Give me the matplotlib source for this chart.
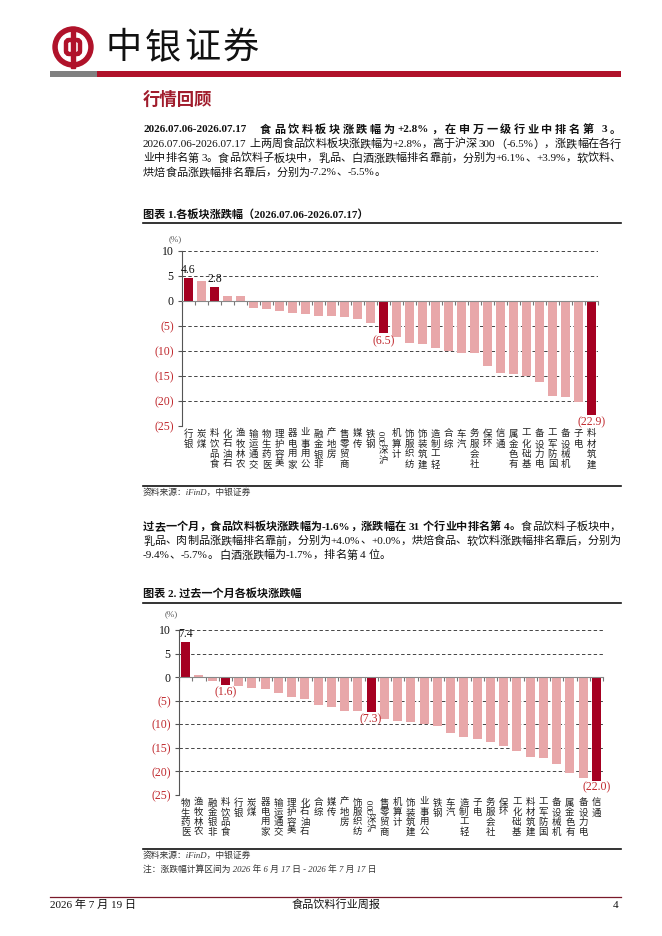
import re
import matplotlib
matplotlib.use('Agg')
import matplotlib.pyplot as plt
from matplotlib.patches import Circle, Rectangle, FancyBboxPatch
import numpy as np

W, H = 662, 936
SERIF_CN = ['Liberation Serif', 'Noto Sans CJK SC']
CN = ['Noto Sans CJK SC', 'DejaVu Sans']

BOC_RED = '#B0122A'
DARK = '#A50021'
PINK = '#E8A7A9'
NEG = '#C0282D'

# chart 1: 2026.07.06-2026.07.17
week_names = ['银行', '煤炭', '食品饮料', '石油石化', '农林牧渔', '交通运输', '医药生物', '美容护理',
              '家用电器', '公用事业', '非银金融', '房地产', '商贸零售', '传媒', '钢铁', '沪深300',
              '计算机', '纺织服饰', '建筑装饰', '轻工制造', '综合', '汽车', '社会服务', '环保',
              '通信', '有色金属', '基础化工', '电力设备', '国防军工', '机械设备', '电子', '建筑材料']
week_values = [4.6, 4.0, 2.8, 1.0, 1.0, -1.5, -1.7, -2.1, -2.5, -2.7, -3.1, -3.1, -3.3, -3.7, -4.5, -6.5,
               -7.2, -8.5, -8.7, -9.5, -10.0, -10.4, -10.4, -13.0, -14.5, -14.7, -15.0, -16.3, -19.0,
               -19.3, -20.3, -22.9]
week_marks = ['银行', '食品饮料', '沪深300', '建筑材料']

# chart 2: past month
month_names = ['医药生物', '农林牧渔', '非银金融', '食品饮料', '银行', '煤炭', '家用电器', '交通运输',
               '美容护理', '石油石化', '综合', '传媒', '房地产', '纺织服饰', '沪深300', '商贸零售',
               '计算机', '建筑装饰', '公用事业', '钢铁', '汽车', '轻工制造', '电子', '社会服务', '环保',
               '基础化工', '建筑材料', '国防军工', '机械设备', '有色金属', '电力设备', '通信']
month_values = [7.4, 0.5, -0.9, -1.6, -1.8, -2.3, -2.5, -3.4, -4.2, -4.7, -5.9, -6.4, -7.2, -7.2, -7.3,
                -8.9, -9.2, -9.6, -9.9, -10.4, -11.9, -12.7, -13.2, -13.8, -14.6, -15.7, -17.0, -17.2,
                -18.5, -20.3, -21.4, -22.0]
month_marks = ['医药生物', '食品饮料', '沪深300', '通信']

y_ticks = [10, 5, 0, -5, -10, -15, -20, -25]

para1 = [
    [('2026.07.06-2026.07.17  食品饮料板块涨跌幅为+2.8%，在申万一级行业中排名第 3。', 'bold')],
    [('2026.07.06-2026.07.17 上两周食品饮料板块涨跌幅为+2.8%，高于沪深 300（-6.5%），涨跌幅在各行', 'normal')],
    [('业中排名第 3。食品饮料子板块中，乳品、白酒涨跌幅排名靠前，分别为+6.1%、+3.9%，软饮料、', 'normal')],
    [('烘焙食品涨跌幅排名靠后，分别为-7.2%、-5.5%。', 'normal')],
]
para2 = [
    [('过去一个月，食品饮料板块涨跌幅为-1.6%，涨跌幅在 31 个行业中排名第 4。', 'bold'),
     ('食品饮料子板块中，', 'normal')],
    [('乳品、肉制品涨跌幅排名靠前，分别为+4.0%、+0.0%，烘焙食品、软饮料涨跌幅排名靠后，分别为', 'normal')],
    [('-9.4%、-5.7%。白酒涨跌幅为-1.7%，排名第 4 位。', 'normal')],
]

fig = plt.figure(figsize=(W / 100, H / 100), dpi=100)
page = fig.add_axes([0, 0, 1, 1])
page.set_xlim(0, W)
page.set_ylim(H, 0)
page.axis('off')
renderer = fig.canvas.get_renderer()


def put_line(segs, y, x0=143, x1=621, justify=True, size=8):
    items = []
    for text, weight in segs:
        for tok in re.findall(r'[\x21-\x7e]+| |[^\x00-\x7f]', text):
            if tok == ' ':
                items.append((None, 3.0))
                continue
            t = page.text(0, y, tok, fontsize=size, family=SERIF_CN, weight=weight,
                          va='center', ha='left', color='#111')
            items.append((t, t.get_window_extent(renderer).width))
    total = sum(w for _, w in items)
    gap = (x1 - x0 - total) / (len(items) - 1) if justify and len(items) > 1 else 0
    x = x0
    for t, w in items:
        if t is not None:
            t.set_x(x)
        x += w + gap


def vlabel(ax, i, name, size=6.8, step=7.0):
    off = 2.5
    for tok in re.findall(r'\d+|.', name)[::-1]:
        rot = 90 if tok.isdigit() else 0
        ax.annotate(tok, (i, 0), xycoords=('data', 'axes fraction'), xytext=(0, -off),
                    textcoords='offset points', ha='center', va='top', rotation=rot,
                    fontsize=size, family=SERIF_CN, color='#222')
        off += len(tok) * size * 0.5 + 1.5 if tok.isdigit() else step


def draw_chart(rect, names, values, marks, step):
    ax = fig.add_axes(rect)
    x = np.arange(len(names))
    colors = [DARK if n in marks else PINK for n in names]
    ax.bar(x, values, width=0.68, color=colors, zorder=3)
    ax.set_xlim(-0.5, len(names) - 0.5)
    ax.set_ylim(-25, 10)
    ax.set_yticks(y_ticks)
    ax.set_yticklabels([str(v) if v >= 0 else '(%d)' % -v for v in y_ticks],
                       family='Liberation Serif', fontsize=8.5)
    for lab, v in zip(ax.get_yticklabels(), y_ticks):
        lab.set_color(NEG if v < 0 else '#111')
    ax.grid(axis='y', linestyle=(0, (3.5, 2.5)), color='#444', linewidth=0.7)
    ax.set_axisbelow(True)
    ax.spines['top'].set_visible(False)
    ax.spines['right'].set_visible(False)
    ax.spines['bottom'].set_position(('data', 0))
    ax.spines['bottom'].set_color('#888')
    ax.spines['left'].set_color('#555')
    ax.spines['bottom'].set_zorder(4)
    ax.set_xticks(np.arange(-0.5, len(names), 1))
    ax.tick_params(axis='x', length=3, color='#777', labelbottom=False)
    ax.tick_params(axis='y', length=3, color='#555', pad=3)
    ax.patch.set_alpha(0)
    for i, (n, v) in enumerate(zip(names, values)):
        if n in marks:
            if v >= 0:
                ax.annotate('%.1f' % v, (i, v), xytext=(0, 1.5), textcoords='offset points',
                            ha='center', va='bottom', fontsize=8.5, family='Liberation Serif',
                            color='#111')
            else:
                ax.annotate('(%.1f)' % -v, (i, v), xytext=(0, -1.5 if v > -20 else -0.3),
                            textcoords='offset points', ha='center', va='top', fontsize=8.5,
                            family='Liberation Serif', color=NEG)
        vlabel(ax, i, n, step=step)
    return ax


# header
page.add_patch(Circle((73, 47), 20, color=BOC_RED))
page.add_patch(Circle((73, 47), 14.5, color='white'))
page.add_patch(Rectangle((71.2, 26.5), 3.6, 41, color=BOC_RED))
page.add_patch(FancyBboxPatch((66, 40), 14, 14, boxstyle='round,pad=0,rounding_size=3',
                              facecolor='none', edgecolor=BOC_RED, linewidth=3.2))
for k, ch in enumerate('中银证券'):
    page.text(124 + 39 * k, 48, ch, fontsize=26, family=CN, ha='center', va='center', color='#111')
page.add_patch(Rectangle((50, 71), 47, 6, color='#808080', lw=0))
page.add_patch(Rectangle((97, 71), 524, 6, color=BOC_RED, lw=0))
page.text(143, 100, '行情回顾', fontsize=12.5, family=CN, weight='bold', color='#A01C2C', va='center')

for k, segs in enumerate(para1):
    put_line(segs, 130 + 14.2 * k, justify=k < len(para1) - 1)
for k, segs in enumerate(para2):
    put_line(segs, 527 + 14.2 * k, justify=k < len(para2) - 1)

# chart 1 block
page.text(143, 214, '图表 1.各板块涨跌幅（2026.07.06-2026.07.17）', fontsize=8, family=SERIF_CN,
          weight='bold', va='center', color='#111')
page.plot([143, 621], [223, 223], color='#111', lw=1.2)
page.text(175, 239, '(%)', fontsize=6.5, family='Liberation Serif', ha='center', va='center', color='#555')
draw_chart([182 / W, 1 - 426 / H, 416 / W, 175 / H], week_names, week_values, week_marks, 7.4)
page.plot([143, 621], [486, 486], color='#111', lw=1.2)
page.text(143, 493, '资料来源：iFinD，中银证券', fontsize=6.3, family=SERIF_CN, style='italic',
          va='center', color='#333')

# chart 2 block
page.text(143, 594, '图表 2. 过去一个月各板块涨跌幅', fontsize=8, family=SERIF_CN, weight='bold',
          va='center', color='#111')
page.plot([143, 621], [603, 603], color='#111', lw=1.2)
page.text(171, 614, '(%)', fontsize=6.5, family='Liberation Serif', ha='center', va='center', color='#555')
draw_chart([179 / W, 1 - 795 / H, 424 / W, 165 / H], month_names, month_values, month_marks, 7.0)
page.plot([143, 621], [849, 849], color='#111', lw=1.2)
page.text(143, 856, '资料来源：iFinD，中银证券', fontsize=6.3, family=SERIF_CN, style='italic',
          va='center', color='#333')
page.text(143, 870, '注：涨跌幅计算区间为 2026 年 6 月 17 日 - 2026 年 7 月 17 日', fontsize=6.3,
          family=SERIF_CN, style='italic', va='center', color='#333')

# footer
page.plot([50, 621], [897, 897], color='#7A1A2A', lw=0.9)
page.text(50, 905, '2026 年 7 月 19 日', fontsize=8, family=SERIF_CN, va='center', color='#111')
page.text(336, 905, '食品饮料行业周报', fontsize=8, family=SERIF_CN, ha='center', va='center', color='#111')
page.text(618, 905, '4', fontsize=8, family=SERIF_CN, ha='right', va='center', color='#111')

fig.savefig('out.png', dpi=100)
plt.close(fig)
